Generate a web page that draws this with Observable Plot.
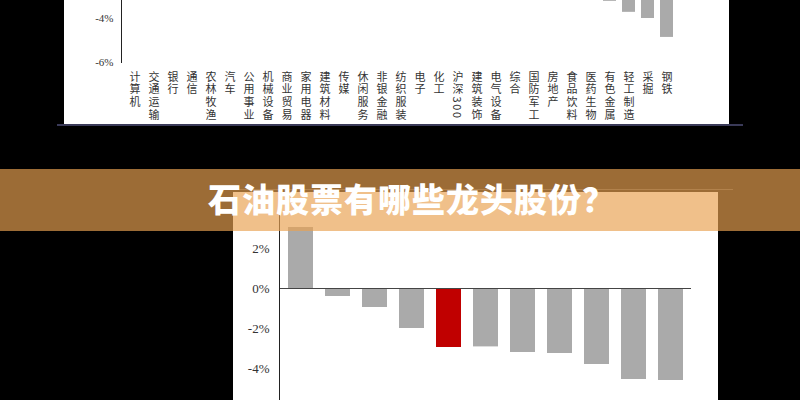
<!DOCTYPE html>
<html><head><meta charset="utf-8">
<script src="https://cdn.jsdelivr.net/npm/d3@7"></script>
<script src="https://cdn.jsdelivr.net/npm/@observablehq/plot@0.6"></script>
<style>
html,body{margin:0;padding:0;background:#000;width:800px;height:400px;overflow:hidden;}
#top{position:absolute;left:64px;top:0;width:665px;height:124px;background:#fff;}
#topline{position:absolute;left:57px;top:124px;width:686px;height:2px;background:#3a3a58;}
#bline{position:absolute;left:233px;top:189px;width:500px;height:1px;background:#444;}
#bottom{position:absolute;left:233px;top:192px;width:485px;height:208px;background:#fff;}
#banner{position:absolute;left:0;top:169px;width:800px;height:62px;background:rgba(233,161,81,0.67);}
#title{position:absolute;left:12px;top:167px;width:800px;height:62px;line-height:62px;text-align:center;color:#fff;font-family:"Noto Sans CJK SC";font-weight:900;font-size:33px;letter-spacing:1px;}
#top svg g[aria-label="text"] text{writing-mode:vertical-rl;letter-spacing:1.7px;}
</style>
</head>
<body>
<div id="top"></div>
<div id="topline"></div>
<div id="bline"></div>
<div id="bottom"></div>
<div id="banner"></div>
<div id="title">石油股票有哪些龙头股份？</div>
<script>
// Top chart: industry returns (only the lowest bars are visible in the picture)
const topCats = ["计算机","交通运输","银行","通信","农林牧渔","汽车","公用事业","机械设备","商业贸易","家用电器","建筑材料","传媒","休闲服务","非银金融","纺织服装","电子","化工","沪深300","建筑装饰","电气设备","综合","国防军工","房地产","食品饮料","医药生物","有色金属","轻工制造","采掘","钢铁"];
const topVals = [4.5, 3.0, 2.2, 1.8, 1.2, 0.9, 0.6, 0.4, 0.2, 0.0, -0.2, -0.4, -0.6, -0.8, -1.0, -1.2, -1.4, -1.6, -1.8, -2.0, -2.2, -2.4, -2.6, -2.8, -3.0, -3.22, -3.72, -4.0, -4.86];
const topTicks = [-6, -4];

// Bottom chart
const botCats = ["1","2","3","4","5","6","7","8","9","10","11"];
const botVals = [3.05, -0.4, -0.95, -2.0, -2.95, -2.92, -3.2, -3.25, -3.8, -4.55, -4.6];
const botHighlight = [false, false, false, false, true, false, false, false, false, false, false];
const botTicks = [-4, -2, 0, 2];

const pct = d => d + "%";

const topData = topCats.map((c, i) => ({cat: c, val: topVals[i]}));
const topPlot = Plot.plot({
  width: 665, height: 124,
  marginLeft: 57, marginRight: 0, marginTop: 0, marginBottom: 62,
  x: {domain: topCats, range: [54.1, 618.2], padding: 0.32, axis: null},
  y: {domain: [-6, -3.1818], label: null},
  style: {background: "transparent", color: "#222", fontFamily: "Liberation Serif", fontSize: "11px"},
  marks: [
    Plot.barY(topData, {x: "cat", y: "val", fill: "#aaaaaa", clip: true}),
    Plot.frame({anchor: "left", stroke: "#222"}),
    Plot.axisY({ticks: topTicks, tickSize: 0, tickPadding: 8, tickFormat: pct, fontSize: 11, fill: "#333", label: null}),
    Plot.text(topData, {x: "cat", y: () => -6, text: "cat", textAnchor: "start", lineAnchor: "bottom", dy: 8.5, fontFamily: "Noto Sans CJK SC", fontSize: 11, fill: "#333"})
  ]
});
document.getElementById("top").appendChild(topPlot);

const botData = botCats.map((c, i) => ({cat: c, val: botVals[i], hl: botHighlight[i]}));
const botPlot = Plot.plot({
  width: 485, height: 208,
  marginLeft: 46, marginRight: 27, marginTop: 0, marginBottom: 0,
  x: {domain: botCats, paddingInner: 0.33, paddingOuter: 0.165, axis: null},
  y: {domain: [-5.6, 4.8], label: null},
  style: {background: "transparent", color: "#222", fontFamily: "Liberation Serif", fontSize: "13px"},
  marks: [
    Plot.barY(botData, {x: "cat", y: "val", fill: d => d.hl ? "#c00000" : "#aaaaaa"}),
    Plot.ruleY([0], {stroke: "#444"}),
    Plot.frame({anchor: "left", stroke: "#222"}),
    Plot.axisY({ticks: botTicks, tickSize: 0, tickPadding: 10, tickFormat: pct, fontSize: 13, fill: "#333", label: null})
  ]
});
document.getElementById("bottom").appendChild(botPlot);
</script>
</body></html>
